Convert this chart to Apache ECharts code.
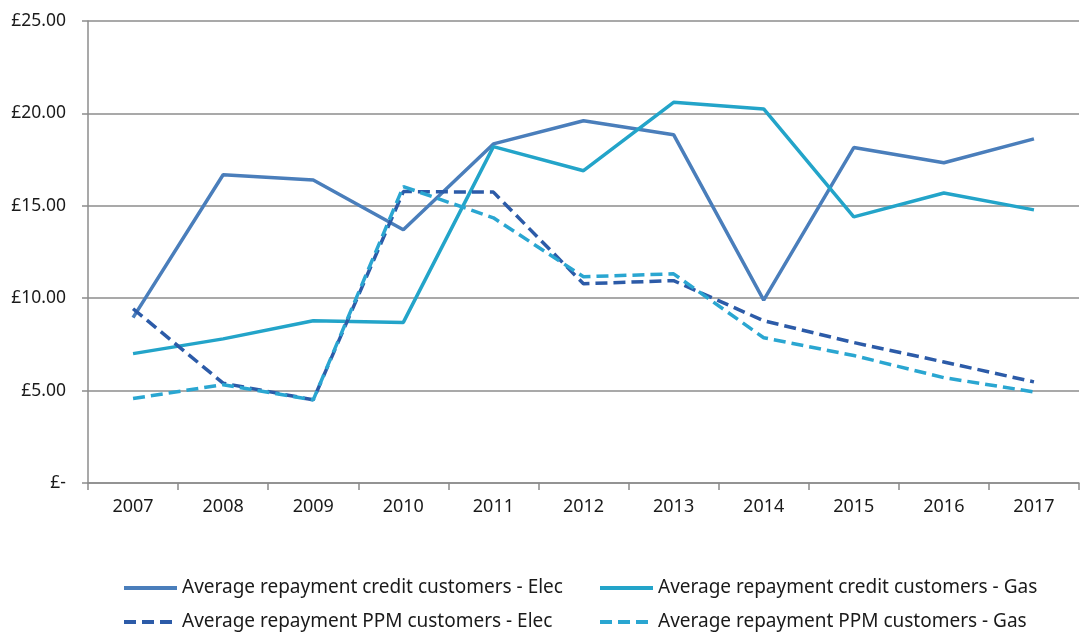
<!DOCTYPE html>
<html>
<head>
<meta charset="utf-8">
<script src="https://cdn.jsdelivr.net/npm/echarts@6/dist/echarts.min.js"></script>
<style>
  html, body { margin: 0; padding: 0; background: #fff; }
  #chart { width: 1081px; height: 633px; }
</style>
</head>
<body>
<div id="chart"></div>
<script>
// years on the x axis
const years = ['2007', '2008', '2009', '2010', '2011', '2012', '2013', '2014', '2015', '2016', '2017'];

// series values (£)
const creditElec = [8.95, 16.68, 16.4, 13.7, 18.35, 19.6, 18.85, 9.9, 18.15, 17.33, 18.62];
const creditGas = [7.0, 7.8, 8.78, 8.69, 18.2, 16.9, 20.6, 20.24, 14.4, 15.69, 14.78];
const ppmElec = [9.43, 5.4, 4.5, 15.77, 15.74, 10.78, 10.95, 8.78, 7.6, 6.55, 5.47];
const ppmGas = [4.57, 5.32, 4.5, 16.04, 14.35, 11.16, 11.32, 7.86, 6.9, 5.7, 4.93];

const names = [
  'Average repayment credit customers - Elec',
  'Average repayment credit customers - Gas',
  'Average repayment PPM customers - Elec',
  'Average repayment PPM customers - Gas'
];

const chart = echarts.init(document.getElementById('chart'));

const axisGrey = '#8c8c8c';
const fontFamily = '"Noto Sans", "Open Sans", sans-serif';

// makes one line series
function lineSeries(name, data, color, dashed) {
  return {
    name: name,
    type: 'line',
    data: data,
    symbol: 'none',
    lineStyle: {
      color: color,
      width: 3.5,
      type: dashed ? [12, 6] : 'solid'
    },
    itemStyle: { color: color }
  };
}

const legendCommon = {
  orient: 'vertical',
  top: 578,
  padding: 0,
  itemWidth: 53,
  itemHeight: 14,
  itemGap: 14,
  itemStyle: { opacity: 0 },
  lineStyle: { width: 4 },
  textStyle: { fontSize: 19, lineHeight: 20, color: '#1a1a1a', fontFamily: fontFamily },
  selectedMode: false
};

chart.setOption({
  backgroundColor: '#fff',
  animation: false,
  grid: { left: 88, right: 2, top: 21, bottom: 150, containLabel: false },
  legend: [
    Object.assign({}, legendCommon, { left: 122, data: [names[0], names[2]] }),
    Object.assign({}, legendCommon, { left: 598, data: [names[1], names[3]] })
  ],
  xAxis: {
    type: 'category',
    data: years,
    boundaryGap: true,
    axisLine: { lineStyle: { color: axisGrey, width: 1.5 } },
    axisTick: { show: true, length: 7, lineStyle: { color: axisGrey, width: 1.5 } },
    axisLabel: { fontSize: 18, color: '#1a1a1a', fontFamily: fontFamily, margin: 15 }
  },
  yAxis: {
    type: 'value',
    min: 0,
    max: 25,
    interval: 5,
    axisLine: { show: true, lineStyle: { color: axisGrey, width: 1.5 } },
    axisTick: { show: true, length: 6, lineStyle: { color: axisGrey, width: 1.5 } },
    splitLine: { lineStyle: { color: axisGrey, width: 1.5 } },
    axisLabel: {
      fontSize: 17.5,
      color: '#1a1a1a',
      fontFamily: fontFamily,
      margin: 22,
      formatter: function (v) { return v === 0 ? '£-' : '£' + v.toFixed(2); }
    }
  },
  series: [
    lineSeries(names[0], creditElec, '#4a7ebb', false),
    lineSeries(names[1], creditGas, '#23a4c9', false),
    lineSeries(names[2], ppmElec, '#2c5ba8', true),
    lineSeries(names[3], ppmGas, '#2aa6d1', true)
  ]
});
</script>
</body>
</html>
